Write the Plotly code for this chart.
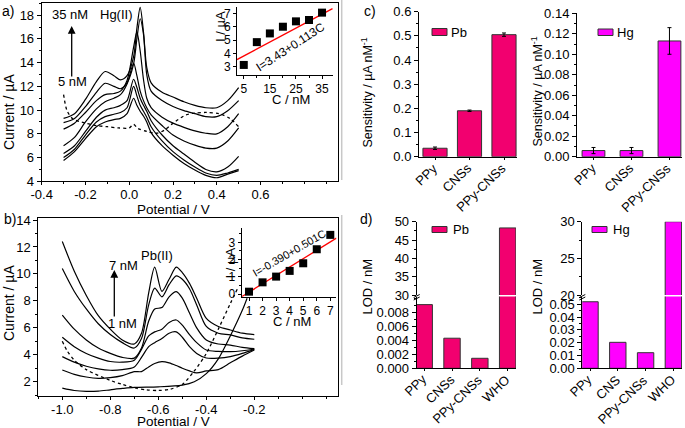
import plotly.graph_objects as go

W, H = 685, 428
FONT = "Liberation Sans, Arial, sans-serif"


def fx(p):
    return p / W


def fy(p):
    return 1 - p / H


# ---------------- data: panel a (Hg(II), DPASV) ----------------
pot_a = [-0.30, -0.25, -0.20, -0.15, -0.11, -0.07, -0.04, -0.01, 0.02, 0.035, 0.05,
         0.065, 0.08, 0.10, 0.15, 0.20, 0.25, 0.30, 0.35, 0.40, 0.45, 0.50]
hg_35 = [9.3, 9.7, 10.9, 12.4, 13.25, 12.9, 12.55, 12.9, 14.5, 16.9, 18.65, 16.6, 13.6, 12.3, 11.5, 11.1, 10.7, 10.4, 10.2, 10.2, 10.8, 11.9]
hg_30 = [8.95, 9.3, 10.3, 11.5, 12.26, 12.0, 11.8, 12.3, 13.9, 16.0, 17.7, 16.4, 13.0, 11.6, 10.8, 10.3, 9.95, 9.7, 9.45, 9.45, 9.95, 10.8]
hg_25 = [8.4, 8.9, 9.8, 10.8, 11.3, 11.4, 11.6, 12.5, 15.3, 16.6, 15.0, 12.6, 11.0, 10.2, 9.4, 8.9, 8.55, 8.25, 8.05, 8.0, 8.6, 9.7]
hg_20 = [7.0, 7.7, 9.0, 10.1, 10.7, 11.0, 11.3, 12.2, 13.95, 12.9, 11.6, 10.8, 10.2, 9.6, 8.7, 7.9, 7.4, 7.05, 6.8, 6.8, 7.4, 8.5]
hg_15 = [6.35, 7.0, 8.2, 9.4, 10.0, 10.2, 10.4, 10.8, 12.6, 11.9, 11.0, 10.4, 9.9, 9.1, 7.9, 7.0, 6.3, 5.6, 5.0, 4.8, 5.2, 6.1]
hg_10 = [6.0, 6.7, 7.9, 9.0, 9.45, 9.65, 9.8, 10.2, 12.0, 11.2, 10.4, 9.9, 9.4, 8.6, 7.4, 6.5, 5.8, 5.2, 4.7, 4.5, 4.7, 5.0]
hg_05 = [5.75, 6.5, 7.6, 8.6, 9.0, 9.2, 9.3, 9.7, 11.0, 10.4, 9.9, 9.5, 9.0, 8.1, 7.0, 6.2, 5.5, 4.95, 4.5, 4.3, 4.6, 4.9]
hg_curves = [hg_35, hg_30, hg_25, hg_20, hg_15, hg_10, hg_05]

pot_a_blank = [-0.30, -0.285, -0.26, -0.20, -0.15, -0.10, -0.05, 0.0, 0.019, 0.04, 0.08,
               0.125, 0.16, 0.20, 0.26, 0.30, 0.353, 0.41, 0.46, 0.50]
hg_blank = [11.3, 10.0, 9.3, 8.9, 8.7, 8.6, 8.5, 8.5, 8.8, 8.45, 8.2, 8.05, 8.3, 8.9, 9.6, 9.75, 9.8, 9.7, 9.3, 8.6]

# inset a
conc_hg = [5, 10, 15, 20, 25, 30, 35]
cur_hg = [3.15, 4.85, 5.5, 6.0, 6.4, 6.5, 7.05]
fit_hg_c = [2.4, 39.0]
fit_hg_i = [3.55, 7.35]

# ---------------- data: panel b (Pb(II)) ----------------
pot_b = [-1.0, -0.95, -0.9, -0.85, -0.8, -0.75, -0.7, -0.67, -0.64, -0.615, -0.585,
         -0.555, -0.525, -0.5, -0.47, -0.44, -0.4, -0.35, -0.3, -0.25, -0.2]
pb_7 = [12.4, 10.2, 8.4, 6.9, 5.9, 5.1, 4.8, 5.6, 8.6, 10.5, 8.7, 9.6, 10.5, 10.1, 9.3, 8.2, 6.7, 6.1, 5.84, 5.6, 5.5]
pb_6 = [10.4, 8.7, 7.4, 6.3, 5.5, 4.9, 4.5, 5.2, 7.7, 8.95, 8.3, 9.2, 9.85, 9.6, 8.9, 7.7, 6.1, 5.6, 5.47, 5.25, 5.15]
pb_5 = [6.95, 5.9, 5.1, 4.5, 4.1, 3.8, 3.75, 4.5, 6.5, 7.4, 7.5, 8.3, 8.68, 8.2, 7.1, 6.0, 5.1, 4.8, 4.72, 4.55, 4.45]
pb_4 = [5.3, 4.6, 4.1, 3.75, 3.5, 3.45, 3.6, 4.4, 5.4, 5.7, 5.9, 6.4, 6.58, 6.2, 5.5, 4.9, 4.35, 4.25, 4.23, 4.3, 4.43]
pb_3 = [3.86, 3.45, 3.15, 2.95, 2.85, 2.9, 3.1, 3.8, 4.6, 4.9, 5.2, 5.6, 5.7, 5.3, 4.6, 4.1, 3.76, 3.75, 3.86, 4.1, 4.4]
pb_2 = [2.87, 2.55, 2.35, 2.25, 2.3, 2.45, 2.75, 2.75, 3.1, 3.35, 3.49, 3.4, 3.2, 3.0, 2.8, 2.65, 2.8, 2.9, 3.4, 3.9, 4.35]
pb_curves = [pb_7, pb_6, pb_5, pb_4, pb_3, pb_2]

pot_b_1 = [-1.0, -0.95, -0.9, -0.85, -0.8, -0.75, -0.7, -0.6, -0.5, -0.45, -0.4, -0.35, -0.3, -0.25, -0.23]
pb_1 = [1.53, 1.35, 1.28, 1.3, 1.4, 1.5, 1.58, 1.62, 1.75, 2.0, 2.6, 3.7, 5.4, 7.3, 8.2]

pot_b_blank = [-1.0, -0.98, -0.95, -0.9, -0.8, -0.75, -0.7, -0.65, -0.6, -0.55, -0.5, -0.45, -0.4, -0.35, -0.3, -0.27]
pb_blank = [5.0, 4.3, 3.6, 2.9, 2.1, 1.8, 1.55, 1.4, 1.35, 1.45, 1.8, 2.8, 4.1, 5.9, 7.8, 8.9]

# inset b
conc_pb = [1, 2, 3, 4, 5, 6, 7]
cur_pb = [0.15, 0.69, 1.02, 1.35, 1.79, 2.6, 3.43]
fit_pb_c = [0.46, 7.45]
fit_pb_i = [-0.14, 3.24]

# ---------------- data: panel c (sensitivity) ----------------
sens_cats = ["PPy", "CNSs", "PPy-CNSs"]
sens_pb = [0.035, 0.19, 0.505]
sens_pb_err = [0.005, 0.003, 0.007]
sens_hg = [0.006, 0.006, 0.113]
sens_hg_err = [0.003, 0.003, 0.013]

# ---------------- data: panel d (LOD) ----------------
lod_pb_cats = ["PPy", "CNSs", "PPy-CNSs", "WHO"]
lod_pb = [0.0091, 0.0043, 0.00143, 48.3]
lod_hg_cats = ["PPy", "CNS", "PPy-CNSs", "WHO"]
lod_hg = [0.052, 0.0203, 0.0122, 30.0]

PB_COLOR = "#F2006F"
HG_COLOR = "#FF00FF"

pos3 = list(range(len(sens_cats)))
pos4 = list(range(len(lod_pb_cats)))

fig = go.Figure()

LINE = dict(color="black", width=1.2, shape="spline", smoothing=0.8)
DOT = dict(color="black", width=1.3, dash="dot", shape="spline", smoothing=0.8)

# panel a curves
for c in hg_curves:
    fig.add_trace(go.Scatter(x=pot_a, y=c, mode="lines", line=LINE, xaxis="x", yaxis="y"))
fig.add_trace(go.Scatter(x=pot_a_blank, y=hg_blank, mode="lines", line=DOT, xaxis="x", yaxis="y"))
# inset a
fig.add_trace(go.Scatter(x=fit_hg_c, y=fit_hg_i, mode="lines", line=dict(color="red", width=1.3), xaxis="x2", yaxis="y2"))
fig.add_trace(go.Scatter(x=conc_hg, y=cur_hg, mode="markers", marker=dict(symbol="square", size=8, color="black"),
                         xaxis="x2", yaxis="y2", cliponaxis=False))

# panel b curves
for c in pb_curves:
    fig.add_trace(go.Scatter(x=pot_b, y=c, mode="lines", line=LINE, xaxis="x3", yaxis="y3"))
fig.add_trace(go.Scatter(x=pot_b_1, y=pb_1, mode="lines", line=LINE, xaxis="x3", yaxis="y3"))
fig.add_trace(go.Scatter(x=pot_b_blank, y=pb_blank, mode="lines", line=DOT, xaxis="x3", yaxis="y3"))
# inset b
fig.add_trace(go.Scatter(x=fit_pb_c, y=fit_pb_i, mode="lines", line=dict(color="red", width=1.3), xaxis="x4", yaxis="y4"))
fig.add_trace(go.Scatter(x=conc_pb, y=cur_pb, mode="markers", marker=dict(symbol="square", size=8, color="black"),
                         xaxis="x4", yaxis="y4", cliponaxis=False))

# panel c bars
fig.add_trace(go.Bar(x=pos3, y=sens_pb, width=0.7, marker=dict(color=PB_COLOR, line=dict(color="#333", width=1)),
                     error_y=dict(type="data", array=sens_pb_err, color="black", thickness=1, width=2),
                     xaxis="x5", yaxis="y5"))
fig.add_trace(go.Bar(x=pos3, y=sens_hg, width=0.6, marker=dict(color=HG_COLOR, line=dict(color="#333", width=1)),
                     error_y=dict(type="data", array=sens_hg_err, color="black", thickness=1, width=2),
                     xaxis="x6", yaxis="y6"))

# panel d bars (broken axes: lower & upper parts)
for xa, ya in (("x7", "y7"), ("x8", "y8")):
    fig.add_trace(go.Bar(x=pos4, y=lod_pb, width=0.59, marker=dict(color=PB_COLOR, line=dict(color="#333", width=1)),
                         xaxis=xa, yaxis=ya))
for xa, ya in (("x9", "y9"), ("x10", "y10")):
    fig.add_trace(go.Bar(x=pos4, y=lod_hg, width=0.59, marker=dict(color=HG_COLOR, line=dict(color="#333", width=1)),
                         xaxis=xa, yaxis=ya))


def axis(domain, rng, anchor, tickvals=None, ticktext=None, minor=None, mirror=False,
         size=13, ticklen=4, show=True, labels=True, standoff=None):
    d = dict(type="linear", domain=domain, range=rng, anchor=anchor, showline=show, linecolor="black", linewidth=1,
             ticks="outside" if show else "", ticklen=ticklen, tickwidth=1, tickcolor="black",
             showgrid=False, zeroline=False, mirror=mirror, automargin=False, fixedrange=True,
             showticklabels=show and labels, tickfont=dict(family=FONT, size=size, color="black"))
    if tickvals is not None:
        d["tickmode"] = "array"
        d["tickvals"] = tickvals
        if ticktext is not None:
            d["ticktext"] = ticktext
    if minor is not None and show:
        d["minor"] = dict(dtick=minor, ticks="outside", ticklen=2, tickwidth=1, tickcolor="black", showgrid=False)
    if standoff is not None:
        d["ticklabelstandoff"] = standoff
    return d


lay = {}
# panel a
lay["xaxis"] = axis([fx(41.7), fx(338)], [-0.4, 0.954], "y", tickvals=[-0.4, -0.2, 0.0, 0.2, 0.4, 0.6],
                    ticktext=["-0.4", "-0.2", "0.0", "0.2", "0.4", "0.6"], minor=0.1, mirror=True, ticklen=3, standoff=-2)
lay["yaxis"] = axis([fy(181.3), fy(3.3)], [4, 19], "x", tickvals=[4, 6, 8, 10, 12, 14, 16, 18], minor=1, mirror=True)
# inset a
lay["xaxis2"] = axis([fx(237), fx(333)], [2.4, 39.2], "y2", tickvals=[5, 15, 25, 35], minor=5, ticklen=3, size=12)
lay["yaxis2"] = axis([fy(75), fy(7)], [2.4, 7.47], "x2", tickvals=[3, 4, 5, 6, 7], ticklen=3, size=12)
# panel b
lay["xaxis3"] = axis([fx(38.3), fx(338.3)], [-1.1, 0.15], "y3", tickvals=[-1.0, -0.8, -0.6, -0.4, -0.2],
                     ticktext=["-1.0", "-0.8", "-0.6", "-0.4", "-0.2"], minor=0.1, mirror=True, ticklen=3, standoff=-2)
lay["yaxis3"] = axis([fy(396), fy(218)], [0.94, 14.15], "x3", tickvals=[2, 4, 6, 8, 10, 12, 14], minor=1, mirror=True)
# inset b
lay["xaxis4"] = axis([fx(241.7), fx(336.4)], [0.46, 7.45], "y4", tickvals=[1, 2, 3, 4, 5, 6, 7], ticklen=3, size=12)
lay["yaxis4"] = axis([fy(296.7), fy(228.3)], [-0.14, 3.81], "x4", tickvals=[0, 1, 2, 3], minor=0.5, ticklen=3, size=12)
# panel c
lay["xaxis5"] = axis([fx(419), fx(517)], [-0.464, 2.377], "y5", tickvals=pos3, ticklen=2, labels=False)
lay["yaxis5"] = axis([fy(156.7), fy(11.7)], [0, 0.6], "x5", tickvals=[0, 0.1, 0.2, 0.3, 0.4, 0.5, 0.6],
                     ticktext=["0.0", "0.1", "0.2", "0.3", "0.4", "0.5", "0.6"], minor=0.05)
lay["xaxis6"] = axis([fx(577), fx(682)], [-0.434, 2.33], "y6", tickvals=pos3, ticklen=2, labels=False)
lay["yaxis6"] = axis([fy(156.7), fy(13.3)], [0, 0.14], "x6", tickvals=[0, 0.02, 0.04, 0.06, 0.08, 0.10, 0.12, 0.14],
                     ticktext=["0.00", "0.02", "0.04", "0.06", "0.08", "0.10", "0.12", "0.14"], minor=0.01)
# panel d, Pb
lay["xaxis7"] = axis([fx(416.7), fx(516)], [-0.27, 3.3], "y7", tickvals=pos4, ticklen=2, labels=False)
lay["yaxis7"] = axis([fy(368.3), fy(296.5)], [0, 0.01026], "x7", tickvals=[0, 0.002, 0.004, 0.006, 0.008],
                     ticktext=["0.000", "0.002", "0.004", "0.006", "0.008"], minor=0.001)
lay["xaxis8"] = axis([fx(416.7), fx(516)], [-0.27, 3.3], "y8", show=False)
lay["yaxis8"] = axis([fy(295), fy(221.7)], [30, 50], "x8", tickvals=[30, 35, 40, 45, 50], minor=2.5)
# panel d, Hg
lay["xaxis9"] = axis([fx(582.3), fx(682)], [-0.277, 3.31], "y9", tickvals=pos4, ticklen=2, labels=False)
lay["yaxis9"] = axis([fy(368.3), fy(296.5)], [0, 0.0561], "x9", tickvals=[0, 0.01, 0.02, 0.03, 0.04, 0.05],
                     ticktext=["0.00", "0.01", "0.02", "0.03", "0.04", "0.05"], minor=0.005)
lay["xaxis10"] = axis([fx(582.3), fx(682)], [-0.277, 3.31], "y10", show=False)
lay["yaxis10"] = axis([fy(295), fy(221.7)], [20, 30], "x10", tickvals=[20, 25, 30], minor=2.5)

anns = []


def ann(x, y, text, size=13, angle=0, xanchor="center"):
    anns.append(dict(x=fx(x), y=fy(y), xref="paper", yref="paper", text=text, showarrow=False,
                     font=dict(family=FONT, size=size, color="black"), textangle=angle,
                     xanchor=xanchor, yanchor="middle"))


# rotated category labels, placed on the bar axes' own data coordinates
def cat_labels(xref, cats, axis_px):
    for i, name in enumerate(cats):
        anns.append(dict(x=i, xref=xref, y=fy(axis_px + 1), yref="paper", text=name, showarrow=False,
                         font=dict(family=FONT, size=13, color="black"), textangle=-44,
                         xanchor="right", yanchor="top", xshift=8))


cat_labels("x5", sens_cats, 156.7)
cat_labels("x6", sens_cats, 156.7)
cat_labels("x7", lod_pb_cats, 368.3)
cat_labels("x9", lod_hg_cats, 368.3)

# panel labels
ann(8, 11, "a)", 14)
ann(10, 219, "b)", 14)
ann(370, 11, "c)", 14)
ann(366, 219, "d)", 14)
# panel a texts
ann(9, 112, "Current / µA", 14, -90)
ann(173, 209, "Potential / V", 13.5)
ann(70, 15, "35 nM", 13)
ann(116, 15, "Hg(II)", 13)
ann(72, 82, "5 nM", 13)
ann(221, 27, "I / µA", 13, -90)
ann(291, 99, "C / nM", 13)
ann(290.5, 47, "I=3.43+0.113C", 12, -33)
# panel b texts
ann(9, 303, "Current / µA", 14, -90)
ann(173, 421, "Potential / V", 13.5)
ann(123, 265, "7 nM", 13)
ann(157, 256, "Pb(II)", 13)
ann(122, 323, "1 nM", 13)
ann(229.5, 263, "I / µA", 13, -90)
ann(292, 321, "C / nM", 13)
ann(289, 253, "I=-0.390+0.501C", 11, -30)
# panel c/d texts
ann(366.5, 93, "Sensitivity / µA nM<sup>-1</sup>", 12.5, -90)
ann(536.5, 92, "Sensitivity / µA nM<sup>-1</sup>", 12.5, -90)
ann(366.5, 287, "LOD / nM", 13, -90)
ann(536.5, 287, "LOD / nM", 13, -90)
ann(449, 32, "Pb", 13, 0, "left")
ann(615, 32, "Hg", 13, 0, "left")
ann(451, 229.5, "Pb", 13, 0, "left")
ann(611, 229.5, "Hg", 13, 0, "left")

# arrows (head position in paper coords, tail offset in pixels)
for (x, y0, y1) in ((71.7, 78, 26), (114.3, 318, 270)):
    anns.append(dict(x=fx(x), y=fy(y1), xref="paper", yref="paper", ax=0, ay=y0 - y1, axref="pixel", ayref="pixel",
                     text="", showarrow=True, arrowhead=2, arrowsize=1.2, arrowwidth=1.3, arrowcolor="black"))

shapes = []


def rect(x0, y0, x1, y1, color):
    shapes.append(dict(type="rect", xref="paper", yref="paper", x0=fx(x0), x1=fx(x1), y0=fy(y1), y1=fy(y0),
                       fillcolor=color, line=dict(color="#333", width=1)))


rect(432, 28.5, 447, 35.5, PB_COLOR)
rect(598, 29, 613, 35.5, HG_COLOR)
rect(432, 226.5, 447, 232.5, PB_COLOR)
rect(592, 226.5, 607, 232.5, HG_COLOR)


def seg(x0, y0, x1, y1, color="black", width=1):
    shapes.append(dict(type="line", xref="paper", yref="paper", x0=fx(x0), x1=fx(x1), y0=fy(y0), y1=fy(y1),
                       line=dict(color=color, width=width)))


# axis break marks
for xb in (416.7, 582.3):
    seg(xb - 3, 297.5, xb + 3, 294.5)
    seg(xb - 3, 300, xb + 3, 297)
# faint separator lines on the left of panels c and d
seg(341.7, 0, 341.7, 180, "#c8c8c8", 1.5)
seg(341.7, 215, 341.7, 385, "#c8c8c8", 1.5)

fig.update_layout(width=W, height=H, margin=dict(l=0, r=0, t=0, b=0), template="none", showlegend=False,
                  paper_bgcolor="white", plot_bgcolor="rgba(0,0,0,0)",
                  font=dict(family=FONT, size=13, color="black"), annotations=anns, shapes=shapes, **lay)

fig.write_html("out.html", config={"displayModeBar": False},
               post_script="document.body.style.margin='0';document.body.style.overflow='hidden';")
